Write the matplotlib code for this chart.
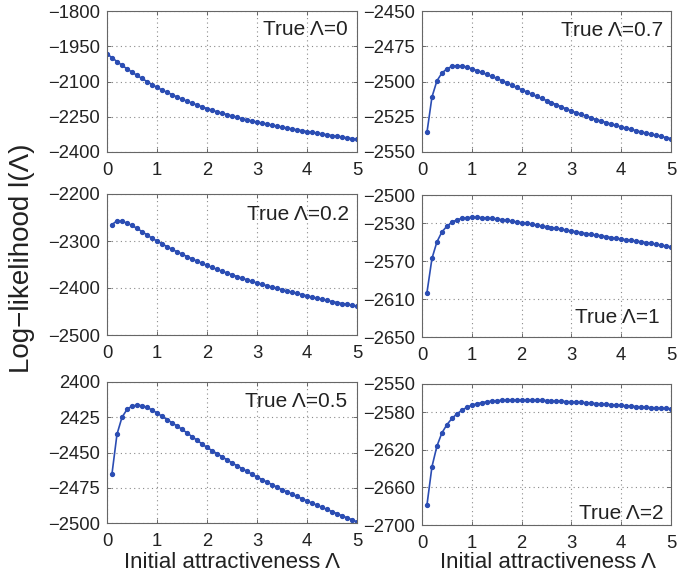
import numpy as np
import matplotlib
matplotlib.use("Agg")
import matplotlib.pyplot as plt

plt.rcParams['font.family'] = ['Liberation Sans', 'DejaVu Sans']

# ---- data ----
lam_a = np.round(np.arange(0, 51) * 0.1, 1)        # 0.0 .. 5.0
lam_b = np.round(np.arange(1, 51) * 0.1, 1)        # 0.1 .. 5.0

ll_true0 = [-1982, -1999, -2015, -2031, -2046, -2060, -2074, -2087, -2100, -2113,
            -2125, -2136, -2146, -2156, -2166, -2175, -2184, -2192, -2200, -2208,
            -2215, -2222, -2229, -2235, -2241, -2247, -2253, -2258, -2263, -2268,
            -2273, -2277, -2281, -2286, -2290, -2294, -2298, -2302, -2306, -2309,
            -2313, -2316, -2320, -2323, -2327, -2330, -2333, -2336, -2340, -2343,
            -2346]

ll_true07 = [-2536, -2511, -2499.5, -2494, -2491, -2489.3, -2488.8, -2489, -2489.8, -2491,
             -2492.3, -2493.6, -2495, -2496.4, -2497.8, -2499.4, -2501, -2502.6, -2504.2, -2505.8,
             -2507.4, -2509, -2510.5, -2512, -2513.5, -2515, -2516.5, -2518, -2519.5, -2521,
             -2522.2, -2523.4, -2524.6, -2525.8, -2527, -2528.1, -2529.2, -2530.2, -2531.2, -2532.2,
             -2533.1, -2534, -2534.9, -2535.8, -2536.6, -2537.4, -2538.2, -2539, -2539.8, -2540.5]

ll_true02 = [-2265, -2257, -2258, -2262, -2267, -2273, -2280, -2287, -2294, -2300,
             -2306, -2312, -2317.5, -2323, -2328, -2333, -2338, -2343, -2347.5, -2352,
             -2356.2, -2360.4, -2364.4, -2368.2, -2372, -2375.6, -2379.2, -2382.6, -2386, -2389.4,
             -2392.4, -2395.3, -2398.1, -2400.9, -2403.6, -2406.3, -2409, -2411.6, -2414.2, -2416.8,
             -2419.3, -2421.7, -2424.1, -2426.5, -2428.8, -2431, -2433.1, -2435.1, -2437.1, -2439]

ll_true1 = [-2603, -2567, -2549.5, -2539, -2533, -2528.8, -2526.2, -2524.8, -2524, -2523.6,
            -2523.6, -2523.9, -2524.3, -2524.8, -2525.4, -2526.1, -2526.9, -2527.7, -2528.5, -2529.3,
            -2530.1, -2531, -2531.8, -2532.7, -2533.5, -2534.4, -2535.3, -2536.2, -2537.2, -2538.1,
            -2539, -2539.9, -2540.7, -2541.6, -2542.4, -2543.2, -2544, -2544.9, -2545.7, -2546.6,
            -2547.3, -2548, -2548.7, -2549.5, -2550.2, -2551.1, -2552, -2553, -2553.9, -2554.8]

ll_true05 = [-2465, -2437, -2425, -2419.5, -2417, -2416.5, -2416.8, -2418, -2419.8, -2422,
             -2424.3, -2426.6, -2428.9, -2431.2, -2433.5, -2436.1, -2438.7, -2441.3, -2443.9, -2446.4,
             -2448.6, -2450.8, -2453, -2455.2, -2457.4, -2459.4, -2461.4, -2463.4, -2465.4, -2467.4,
             -2469.2, -2471, -2472.8, -2474.6, -2476.4, -2478, -2479.6, -2481.2, -2482.8, -2484.4,
             -2485.9, -2487.4, -2488.9, -2490.4, -2491.9, -2493.4, -2494.9, -2496.3, -2497.7, -2499.1]

ll_true2 = [-2678.5, -2638, -2616, -2602, -2593.3, -2586.7, -2581.8, -2578, -2574.8, -2572.6,
            -2571, -2569.8, -2568.9, -2568.2, -2567.7, -2567.4, -2567.2, -2567.1, -2567.1, -2567.1,
            -2567.2, -2567.3, -2567.4, -2567.5, -2567.7, -2567.9, -2568.1, -2568.4, -2568.7, -2569,
            -2569.3, -2569.6, -2570, -2570.4, -2570.8, -2571.2, -2571.6, -2572, -2572.4, -2572.8,
            -2573.2, -2573.6, -2574, -2574.4, -2574.8, -2575.1, -2575.4, -2575.7, -2576, -2576.3]

titles = ["True Λ=0", "True Λ=0.7", "True Λ=0.2", "True Λ=1", "True Λ=0.5", "True Λ=2"]

yticks = [
    [-2400, -2250, -2100, -1950, -1800],
    [-2550, -2525, -2500, -2475, -2450],
    [-2500, -2400, -2300, -2200],
    [-2650, -2610, -2570, -2530, -2500],
    [-2500, -2475, -2450, -2425, -2400],
    [-2700, -2660, -2620, -2580, -2550],
]
yticklabels_5 = ["−2500", "−2475", "−2450", "2425", "2400"]
xticks = [0, 1, 2, 3, 4, 5]

# ---- layout (pixel boxes: left, top, right, bottom) ----
W, H = 679, 579
boxes = [
    (107, 11, 357, 152), (422, 11, 671, 152),
    (107, 194, 357, 335), (422, 195, 671, 337),
    (107, 382, 357, 523), (422, 384, 671, 525),
]
txtpos = [
    (0.964, 0.872), (0.968, 0.865),
    (0.968, 0.858), (0.956, 0.134),
    (0.960, 0.865), (0.968, 0.085),
]

series = [(lam_a, ll_true0), (lam_b, ll_true07), (lam_b, ll_true02),
          (lam_b, ll_true1), (lam_b, ll_true05), (lam_b, ll_true2)]

line_color = "#2b4db3"
text_color = "#222222"

fig = plt.figure(figsize=(W / 100, H / 100), dpi=100)
for i, (b, (x, y)) in enumerate(zip(boxes, series)):
    l, t, r, bt = b
    ax = fig.add_axes([l / W, 1 - bt / H, (r - l) / W, (bt - t) / H])
    ax.plot(x, y, '-o', color=line_color, lw=1.2, ms=2.8, mec=line_color, mfc=line_color)
    yt = yticks[i]
    ax.set_xlim(0, 5)
    ax.set_ylim(yt[0], yt[-1])
    ax.set_xticks(xticks)
    ax.set_xticklabels([str(v) for v in xticks])
    ax.set_yticks(yt)
    if i == 4:
        ax.set_yticklabels(yticklabels_5)
    else:
        ax.set_yticklabels([str(v).replace('-', '−') for v in yt])
    ax.grid(True, linestyle=(0, (1, 3)), color="#8a8a8a", lw=0.8)
    ax.tick_params(direction='in', length=3, width=0.6, top=True, right=True,
                   labelsize=13.3, colors="#555555", labelcolor=text_color, pad=5)
    ax.tick_params(axis='x', pad=7)
    for s in ax.spines.values():
        s.set_color("#666666")
        s.set_linewidth(0.8)
    tx, ty = txtpos[i]
    ax.text(tx, ty, titles[i], transform=ax.transAxes, ha='right', va='center',
            fontsize=15, color=text_color)

fig.text(22 / W, 1 - 258 / H, "Log−likelihood l(Λ)", rotation=90, ha='center', va='center',
         fontsize=20, color=text_color)
fig.text(232 / W, 1 - 562 / H, "Initial attractiveness Λ", ha='center', va='center',
         fontsize=16, color=text_color)
fig.text(548 / W, 1 - 562 / H, "Initial attractiveness Λ", ha='center', va='center',
         fontsize=16, color=text_color)

fig.savefig("out.png", dpi=100)
